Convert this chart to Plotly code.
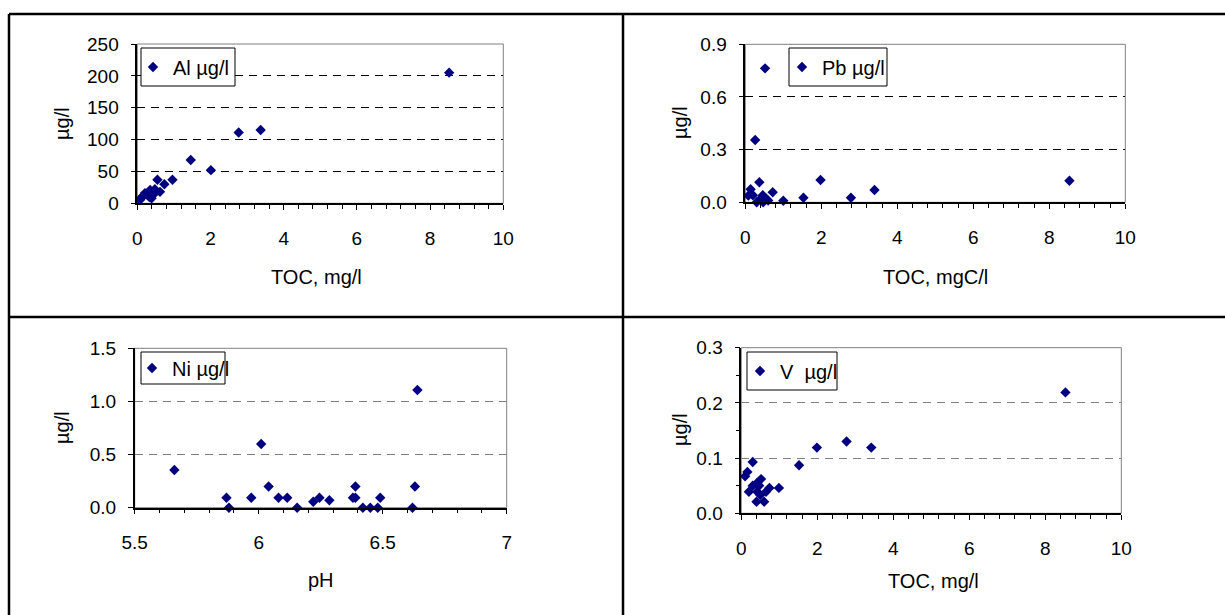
import plotly.graph_objects as go

# ---------------- data ----------------
al_toc = [8.52, 3.37, 2.77, 2.01, 1.46, 0.96, 0.74, 0.55, 0.62, 0.48, 0.39, 0.35, 0.30, 0.26, 0.21, 0.16, 0.12, 0.07, 0.44, 0.52, 0.33, 0.09]
al_val = [205, 115, 111, 52, 68, 37, 30, 37, 18, 22, 8, 21, 17, 14, 16, 12, 9, 5, 14, 19, 10, 7]

pb_toc = [8.53, 3.40, 2.78, 1.98, 1.53, 1.00, 0.72, 0.52, 0.26, 0.37, 0.14, 0.08, 0.20, 0.46, 0.60, 0.30, 0.47, 0.55, 0.40]
pb_val = [0.123, 0.070, 0.026, 0.127, 0.026, 0.009, 0.057, 0.763, 0.355, 0.114, 0.074, 0.038, 0.040, 0.040, 0.010, 0.000, 0.000, 0.020, 0.020]

ni_ph = [5.66, 5.87, 5.88, 5.97, 6.01, 6.04, 6.08, 6.115, 6.155, 6.22, 6.245, 6.285, 6.38, 6.39, 6.39, 6.42, 6.45, 6.48, 6.49, 6.62, 6.63, 6.64]
ni_val = [0.355, 0.094, 0.0, 0.094, 0.60, 0.20, 0.094, 0.094, 0.0, 0.056, 0.094, 0.070, 0.094, 0.20, 0.094, 0.0, 0.0, 0.0, 0.094, 0.0, 0.20, 1.107]

v_toc = [8.53, 3.42, 2.77, 1.99, 1.52, 0.99, 0.74, 0.52, 0.40, 0.30, 0.16, 0.10, 0.30, 0.20, 0.42, 0.65, 0.40, 0.60, 0.50, 0.47]
v_val = [0.219, 0.119, 0.130, 0.119, 0.087, 0.046, 0.046, 0.062, 0.054, 0.093, 0.075, 0.067, 0.050, 0.039, 0.039, 0.039, 0.021, 0.021, 0.033, 0.050]

names = ["Al µg/l", "Pb µg/l", "Ni µg/l", "V\u00a0 µg/l"]
x_titles = ["TOC, mg/l", "TOC, mgC/l", "pH", "TOC, mg/l"]
y_title = "µg/l"

# ---------------- layout helpers ----------------
W, H = 1225, 615
def fx(p):
    return p / W
def fy(p):
    return 1 - p / H

FONT = "Liberation Sans, Arial, sans-serif"
NAVY = "#000080"
FS_TICK = 19
FS_TITLE = 20
FS_LEG = 20

# plot-area pixel boxes: (left, right, top, bottom)
boxes = [(137.3, 503.3, 44.0, 203.3),
         (745.3, 1125.3, 44.3, 202.3),
         (134.7, 506.7, 348.3, 507.7),
         (741.3, 1121.3, 347.7, 513.3)]

xranges = [[0, 10], [0, 10], [5.5, 7], [0, 10]]
xdticks = [2, 2, 0.5, 2]
xminor = [0.4, 0.4, 0.1, 0.4]
yranges = [[0, 250], [0, 0.9], [0, 1.5], [0, 0.3]]
ydticks = [50, 0.3, 0.5, 0.1]
yformats = ["d", ".1f", ".1f", ".1f"]
yminor = [None, None, None, 0.05]
gridcolors = ["#000000", "#000000", "#808080", "#808080"]

xs = [al_toc, pb_toc, ni_ph, v_toc]
ys = [al_val, pb_val, ni_val, v_val]

# legend boxes (left, top, right, bottom) and legend anchor x
legend_boxes = [(141, 48, 235, 86), (789, 48, 887, 86), (141, 352, 225, 384), (747, 352, 837, 390)]
legend_x = [133, 782, 132, 740]

fig = go.Figure()
layout = dict(width=W, height=H, margin=dict(l=0, r=0, t=0, b=0, autoexpand=False),
              paper_bgcolor="white", plot_bgcolor="white",
              font=dict(family=FONT, size=FS_TICK, color="black"),
              showlegend=True, shapes=[], annotations=[])

for i in range(4):
    k = "" if i == 0 else str(i + 1)
    L, R, T, B = boxes[i]
    lg = "legend" + k
    fig.add_trace(go.Scatter(
        x=xs[i], y=ys[i], mode="markers", name=names[i],
        xaxis="x" + k, yaxis="y" + k, legend=lg,
        marker=dict(symbol="diamond", size=8, color=NAVY),
        showlegend=True, cliponaxis=False))
    xa = dict(domain=[fx(L), fx(R)], range=xranges[i], dtick=xdticks[i],
              tick0=xranges[i][0], automargin=False,
              anchor="y" + k, showgrid=False, zeroline=False,
              showline=True, linecolor="black", linewidth=1.5,
              ticks="outside", ticklen=5, tickcolor="black",
              ticklabelstandoff=12,
              tickfont=dict(size=FS_TICK),
              minor=dict(dtick=xminor[i], tick0=xranges[i][0], ticks="outside",
                         ticklen=4, tickcolor="black", showgrid=False),
              fixedrange=True)
    ya = dict(domain=[fy(B), fy(T)], range=yranges[i], dtick=ydticks[i],
              tick0=0, tickformat=yformats[i], automargin=False,
              anchor="x" + k, showgrid=True, gridcolor=gridcolors[i],
              griddash="8px,6px", gridwidth=1, zeroline=False,
              showline=True, linecolor="black", linewidth=1.5,
              ticks="outside", ticklen=5, tickcolor="black",
              ticklabelstandoff=8,
              tickfont=dict(size=FS_TICK), fixedrange=True)
    if yminor[i]:
        ya["minor"] = dict(dtick=yminor[i], tick0=0, ticks="outside",
                           ticklen=4, tickcolor="black", showgrid=False)
    layout["xaxis" + k] = xa
    layout["yaxis" + k] = ya
    # plot area border (gray, top and right)
    layout["shapes"].append(dict(type="rect", xref="x" + k + " domain", yref="y" + k + " domain",
                                 x0=0, x1=1, y0=0, y1=1, layer="below",
                                 line=dict(color="#808080", width=1)))
    # legend frame
    bl, bt, br, bb = legend_boxes[i]
    layout["shapes"].append(dict(type="rect", xref="paper", yref="paper",
                                 x0=fx(bl), x1=fx(br), y0=fy(bb), y1=fy(bt), layer="above",
                                 fillcolor="white", line=dict(color="black", width=1)))
    layout[lg] = dict(x=fx(legend_x[i]), y=fy((bt + bb) / 2), xanchor="left", yanchor="middle",
                      bgcolor="rgba(0,0,0,0)", borderwidth=0,
                      font=dict(size=FS_LEG, family=FONT), itemwidth=30,
                      tracegroupgap=0)

# axis titles as annotations
xt_pos = [(316, 277), (935, 277), (321, 580), (933, 581)]
yt_pos = [(62, 124), (680, 123), (62, 428), (680, 430)]
for i in range(4):
    layout["annotations"].append(dict(text=x_titles[i], x=fx(xt_pos[i][0]), y=fy(xt_pos[i][1]),
                                      xref="paper", yref="paper", showarrow=False,
                                      xanchor="center", yanchor="middle", font=dict(size=FS_TITLE)))
    layout["annotations"].append(dict(text=y_title, x=fx(yt_pos[i][0]), y=fy(yt_pos[i][1]),
                                      xref="paper", yref="paper", showarrow=False, textangle=-90,
                                      xanchor="center", yanchor="middle", font=dict(size=FS_TITLE)))

# table frame lines
frame = [(9, 14, 1225, 14), (9, 14, 9, 615), (623, 14, 623, 615), (9, 317, 1225, 317)]
for x0, y0, x1, y1 in frame:
    layout["shapes"].append(dict(type="line", xref="paper", yref="paper",
                                 x0=fx(x0), y0=fy(y0), x1=fx(x1), y1=fy(y1),
                                 line=dict(color="black", width=2.5)))

fig.update_layout(**layout)
fig.write_html("out.html", config={"displayModeBar": False},
               post_script="document.body.style.margin='0';document.body.style.overflow='hidden';")
